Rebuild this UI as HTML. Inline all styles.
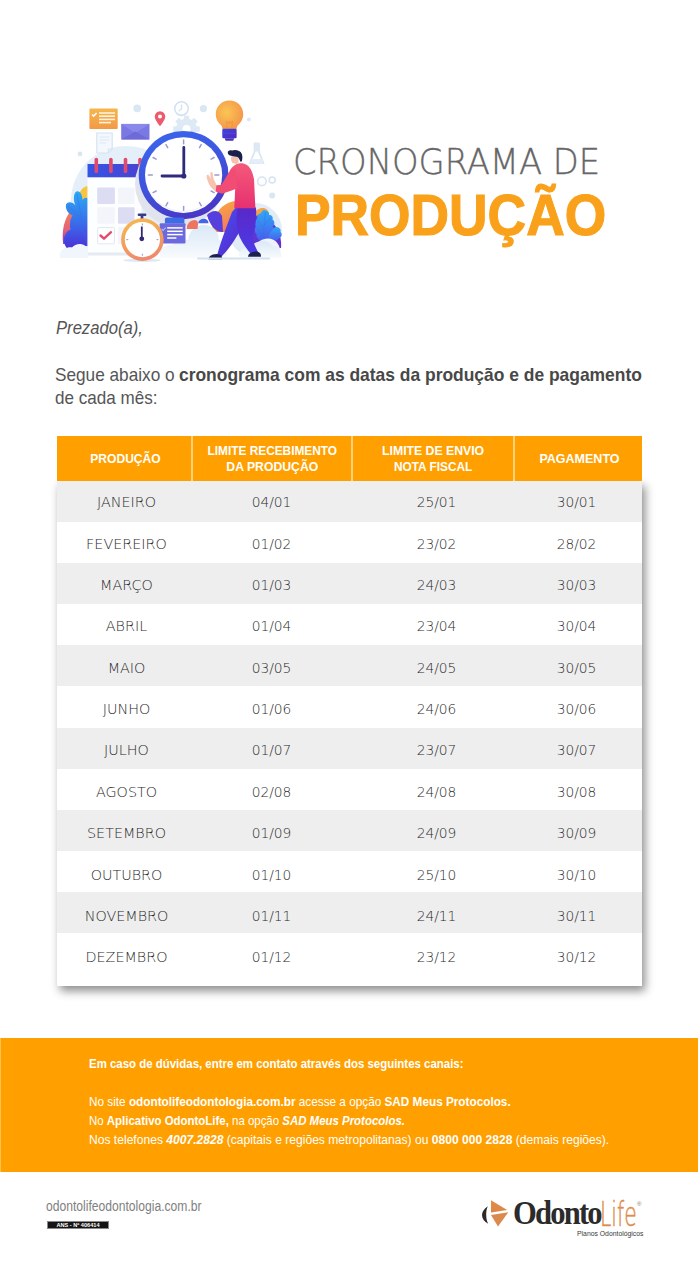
<!DOCTYPE html>
<html lang="pt-BR">
<head>
<meta charset="utf-8">
<title>Cronograma de Produção</title>
<style>
html,body{margin:0;padding:0;background:#fff;}
body{width:698px;height:1280px;position:relative;overflow:hidden;font-family:"Liberation Sans",Arial,sans-serif;}
.abs{position:absolute;white-space:nowrap;}
#t1{-webkit-text-stroke:0.35px #6a6a6a;transform-origin:0 0;transform:scaleX(.965);left:293px;top:142px;font-family:"DejaVu Sans",sans-serif;font-weight:200;font-size:35px;color:#666;line-height:40px;}
#t2{-webkit-text-stroke:1.1px #F9A11B;transform-origin:0 0;transform:scaleX(.944);left:294.5px;top:186px;font-family:"Liberation Sans",sans-serif;font-weight:700;font-size:56.5px;color:#F9A11B;line-height:60px;}
.sx{transform-origin:0 0;}
#p1{left:56px;top:316px;font-style:italic;font-size:19px;color:#555;line-height:24px;transform:scaleX(.875);}
#p2a,#p2b,#p2c{font-size:18.5px;color:#555;line-height:24px;}
#p2a{left:55px;top:363px;transform:scaleX(.93);}
#p2b{left:179px;top:363px;font-weight:700;color:#484848;transform:scaleX(.942);}
#p2c{left:55px;top:386px;transform:scaleX(.922);}
#tbody{position:absolute;left:57px;top:481px;width:585px;height:505px;background:#fff;box-shadow:3px 5px 9px rgba(0,0,0,.45);}
#tbl{position:absolute;left:57px;top:436px;width:585px;height:550px;}
#hd{position:absolute;left:0;top:0;width:585px;height:45px;background:#FF9F00;}
.hc{position:absolute;top:0;height:45px;display:flex;align-items:center;justify-content:center;text-align:center;color:#fff;font-weight:700;font-size:12.5px;line-height:16px;}
.hc span{display:block;}
.dv{position:absolute;top:0;width:2px;height:45px;background:#FFD27A;}
.row{position:absolute;left:0;width:585px;height:41.1px;background:#EEEEEE;}
.tr{position:absolute;left:0;width:585px;height:20px;}
.tr span{position:absolute;top:0;height:20px;line-height:20px;text-align:center;font-family:"DejaVu Sans",sans-serif;font-weight:200;font-size:14.8px;color:#2a2a2a;}
.tr .c2,.tr .c3,.tr .c4{transform:scaleX(.93);}
.tr .c1{transform:scaleX(.97);}
.tr .c1{left:1.5px;}.tr .c2{left:134.5px;}.tr .c3{left:298.5px;}.tr .c4{left:456px;}
.c1{left:0;width:135px;}
.c2{left:136px;width:159px;}
.c3{left:296px;width:161px;}
.c4{left:458px;width:127px;}
#band{position:absolute;left:0;top:1037.5px;width:698px;height:134.5px;background:#FF9F00;box-shadow:inset 1px 0 0 #FFC24A;}
.fl{position:absolute;left:89px;color:#fff;font-size:13px;white-space:nowrap;line-height:19px;transform-origin:0 0;}
#url{left:46px;top:1198px;font-size:14px;color:#808080;transform-origin:0 0;transform:scaleX(.865);}
#ans{position:absolute;left:47px;top:1221px;width:60px;height:6px;border:1px solid #8a8a8a;background:#151515;color:#fff;font-size:5.6px;line-height:6px;text-align:center;font-weight:700;white-space:nowrap;}
#lgO{left:513px;top:1194px;font-family:"Liberation Serif",serif;font-weight:700;font-size:34px;line-height:38px;color:#2B2B2B;transform-origin:0 0;transform:scaleX(.9);letter-spacing:-2px;}
#lgL{left:599.5px;top:1194.5px;font-family:"DejaVu Sans",sans-serif;font-weight:200;font-size:34px;line-height:38px;color:#E08B4C;-webkit-text-stroke:0.5px #E08B4C;transform-origin:0 0;transform:scaleX(.6);}
#lgR{left:637px;top:1201px;font-size:6px;line-height:6px;color:#777;}
#lgP{left:577px;top:1230px;font-size:7.6px;line-height:8px;color:#3A3A3A;transform-origin:0 0;transform:scaleX(.9);}
</style>
</head>
<body>
<!-- ILLUSTRATION -->
<svg class="abs" style="left:0;top:0" width="698" height="300" viewBox="0 0 698 300">
<defs>
<linearGradient id="gOrCard" x1="0" y1="0" x2="0" y2="1"><stop offset="0" stop-color="#F7B64C"/><stop offset="1" stop-color="#F39946"/></linearGradient>
<linearGradient id="gRing" x1="0.2" y1="0" x2="0.6" y2="1"><stop offset="0" stop-color="#3A66EC"/><stop offset="0.55" stop-color="#3F52DC"/><stop offset="1" stop-color="#4936C4"/></linearGradient>
<radialGradient id="gBulb" cx="0.4" cy="0.42" r="0.62"><stop offset="0" stop-color="#FAC653"/><stop offset="1" stop-color="#F5964A"/></radialGradient>
<linearGradient id="gBase" x1="0" y1="0" x2="1" y2="1"><stop offset="0" stop-color="#3A48E0"/><stop offset="1" stop-color="#5128BE"/></linearGradient>
<linearGradient id="gShirt" x1="0" y1="0" x2="0" y2="1"><stop offset="0" stop-color="#F45A7A"/><stop offset="1" stop-color="#E73070"/></linearGradient>
<linearGradient id="gPants" x1="0" y1="0" x2="1" y2="1"><stop offset="0" stop-color="#4650F2"/><stop offset="1" stop-color="#5A22C4"/></linearGradient>
<linearGradient id="gPants2" x1="0" y1="0" x2="0" y2="1"><stop offset="0" stop-color="#5A28C8"/><stop offset="1" stop-color="#4B3AE6"/></linearGradient>
<linearGradient id="gLeafL" x1="0" y1="0" x2="0" y2="1"><stop offset="0" stop-color="#2BAAF3"/><stop offset="0.55" stop-color="#3A6CEB"/><stop offset="1" stop-color="#4B30D8"/></linearGradient>
<linearGradient id="gLeafR" x1="0" y1="0" x2="0" y2="1"><stop offset="0" stop-color="#2EAAF5"/><stop offset="1" stop-color="#4C58EE"/></linearGradient>
<linearGradient id="gPlantL" x1="0" y1="0" x2="0" y2="1"><stop offset="0" stop-color="#F68058"/><stop offset="0.6" stop-color="#E0607A"/><stop offset="1" stop-color="#7038D0"/></linearGradient>
<linearGradient id="gStop" x1="0" y1="0" x2="0.3" y2="1"><stop offset="0" stop-color="#F7BC48"/><stop offset="1" stop-color="#F08A6C"/></linearGradient>
<linearGradient id="gCloud" x1="0" y1="0" x2="0" y2="1"><stop offset="0" stop-color="#DAE8F6"/><stop offset="1" stop-color="#F8FBFE"/></linearGradient>
<linearGradient id="gOrBlob" x1="0" y1="0" x2="0.4" y2="1"><stop offset="0" stop-color="#F9AA3E"/><stop offset="1" stop-color="#F27A60"/></linearGradient>
<linearGradient id="gCalBand" x1="0" y1="0" x2="1" y2="0"><stop offset="0" stop-color="#3555E6"/><stop offset="1" stop-color="#4A42D2"/></linearGradient>
<linearGradient id="gBush" x1="0" y1="0" x2="0" y2="1"><stop offset="0" stop-color="#4B46E4"/><stop offset="1" stop-color="#6A2CC8"/></linearGradient>
</defs>
<!-- background soft blobs -->
<circle cx="126" cy="201" r="55" fill="#E5EFF9"/>
<circle cx="255" cy="230" r="27" fill="#E2ECF7"/>
<circle cx="80" cy="154" r="2.4" fill="#DCE6F1"/>
<!-- gear -->
<path d="M183.8 118.9 L183.9 115.7 L189.1 115.7 L189.2 118.9 L191.8 119.9 L194.0 117.8 L197.7 121.5 L195.6 123.8 L196.6 126.3 L199.8 126.4 L199.8 131.6 L196.6 131.7 L195.6 134.2 L197.7 136.5 L194.0 140.2 L191.8 138.1 L189.2 139.1 L189.1 142.3 L183.9 142.3 L183.8 139.1 L181.2 138.1 L179.0 140.2 L175.3 136.5 L177.4 134.2 L176.4 131.7 L173.2 131.6 L173.2 126.4 L176.4 126.3 L177.4 123.8 L175.3 121.5 L179.0 117.8 L181.2 119.9 Z" fill="#DDE9F5"/>
<circle cx="186.5" cy="129.0" r="4" fill="#FFFFFF"/>
<!-- small clock outline -->
<circle cx="181.5" cy="108.6" r="6.8" fill="none" stroke="#D3E2F2" stroke-width="1.6"/>
<path d="M181.5 104.5 V109 L178.8 111.2" fill="none" stroke="#D3E2F2" stroke-width="1.3"/>
<circle cx="203.4" cy="108.6" r="3.6" fill="#D9E7F4"/>
<circle cx="137.2" cy="108.4" r="3.8" fill="#D9E7F4"/>
<circle cx="248.8" cy="119.4" r="2" fill="#DDE8F4"/>
<!-- orange card -->
<rect x="89.4" y="108.4" width="28.3" height="20.6" rx="1" fill="url(#gOrCard)"/>
<g stroke="#FFF3E0" stroke-width="1.6">
<line x1="99" y1="113" x2="115" y2="113"/><line x1="99" y1="116.2" x2="115" y2="116.2"/><line x1="99" y1="119.4" x2="115" y2="119.4"/><line x1="99" y1="122.6" x2="111" y2="122.6"/>
</g>
<path d="M92 114.5 l1.6 1.6 l3 -3.2" fill="none" stroke="#fff" stroke-width="1.5"/>
<!-- light doc -->
<path d="M96.8 133 H112.2 V149 L108.3 153 H96.8 Z" fill="#F4F8FC" stroke="#D4E3F2" stroke-width="1.2"/>
<path d="M108.3 153 V149 H112.2" fill="none" stroke="#D4E3F2" stroke-width="1.1"/>
<g stroke="#DCE7F3" stroke-width="1"><line x1="99.5" y1="137" x2="109.5" y2="137"/><line x1="99.5" y1="140" x2="109.5" y2="140"/><line x1="99.5" y1="143" x2="106" y2="143"/></g>
<!-- envelope -->
<rect x="121.2" y="123.9" width="28.3" height="15.5" fill="#7A78E2"/>
<path d="M121.2 123.9 L135.35 133 L149.5 123.9 Z" fill="#8A88EA"/>
<path d="M121.2 139.4 L135.35 131.5 L149.5 139.4 Z" fill="#6E6AD8"/>
<!-- pin -->
<path d="M160 126.2 C156.5 121.5 154.8 119 154.8 116.4 A5.2 5.2 0 0 1 165.2 116.4 C165.2 119 163.5 121.5 160 126.2 Z" fill="#EE5A6D"/>
<circle cx="160" cy="116.4" r="2" fill="#fff"/>
<!-- left plants -->
<path d="M63.2 244 C61.5 231 64 219 71 210.5 L75 214 C71.5 222 70 232 69 244 Z" fill="url(#gPlantL)"/>
<path d="M79 200 C78 192 82 187 87.8 186 L87.8 200 Z" fill="#F6C545"/>
<path d="M67 248.5 C63.5 244 63 238 65.5 234.5 C66.5 232 68.5 230 70.5 229.5 C69.5 225 70 219 72.5 215.5 C68.5 214 65 209.5 66 204.5 C68 201 72.5 202 75.5 205.5 C73 200 73.5 193 76.5 191.5 C80 190.5 82.5 195 82.5 200 C84 197.5 86.5 197 87.8 198.5 L87.8 248.5 C85 246.5 80 245 76.5 246.5 C73 248 70 249.5 67 248.5 Z" fill="url(#gLeafL)"/>
<g fill="none" stroke="#2F6FE6" stroke-width="0.6" opacity="0.7"><path d="M77 194 C80 210 83 228 87 246"/><path d="M68 206 C73 210 77 214 80 218"/><path d="M70 220 C74 224 78 228 82 232"/></g>
<path d="M65 256 C63 250 68 246 72 247.5 C75 244 82 244 85 248 L88 248 L88 256 Z" fill="#F2F6FC"/>
<!-- calendar -->
<rect x="85.3" y="246" width="3" height="11" fill="#E3E7EE"/>
<rect x="87.5" y="164" width="54" height="92" fill="#FDFEFF"/>
<rect x="87.5" y="252.5" width="54" height="3" fill="#E6EAF1"/>
<rect x="87.5" y="164" width="54" height="13.3" fill="url(#gCalBand)"/>
<g fill="#DCDDF3"><rect x="97.2" y="187.6" width="17.7" height="16.5" rx="1"/><rect x="118" y="207.3" width="16.6" height="16.5" rx="1"/></g>
<g fill="#F3F5FB"><rect x="118" y="187.6" width="16.6" height="16.5" rx="1"/><rect x="97.2" y="207.3" width="17.7" height="16.5" rx="1"/><rect x="118" y="227" width="16.6" height="17.3" rx="1"/></g>
<rect x="97.7" y="227.5" width="16.7" height="16.3" rx="1" fill="#FFFFFF" stroke="#E3E7F2" stroke-width="1"/>
<path d="M100.5 235.5 l3.5 3.2 l7 -6.5" fill="none" stroke="#E64A6C" stroke-width="2.4" stroke-linecap="round" stroke-linejoin="round"/>
<g stroke="#E24A6C" stroke-width="3.6" stroke-linecap="round"><line x1="96.3" y1="159.5" x2="96.3" y2="171.5"/><line x1="110.9" y1="159.5" x2="110.9" y2="171.5"/><line x1="125.5" y1="159.5" x2="125.5" y2="171.5"/><line x1="140" y1="159.5" x2="140" y2="171.5"/></g>
<!-- clock shadow -->
<ellipse cx="179" cy="184" rx="44" ry="43" fill="#E1E4ED"/>
<!-- big clock -->
<ellipse cx="183.6" cy="175.1" rx="44.9" ry="44.1" fill="url(#gRing)"/>
<ellipse cx="183.6" cy="175.1" rx="38.6" ry="37.9" fill="#FFFFFF"/>
<path d="M149 190 A38.6 37.9 0 0 0 214 196 A37 36 0 0 1 149 190 Z" fill="#EFF2F8"/>
<g stroke="#9C9BCB" stroke-width="1.5" stroke-linecap="round">
<line x1="183.6" y1="143.8" x2="183.6" y2="139.9"/>
<line x1="199.5" y1="147.6" x2="201.2" y2="144.6"/>
<line x1="211.1" y1="159.2" x2="214.1" y2="157.5"/>
<line x1="214.9" y1="175.1" x2="218.8" y2="175.1"/>
<line x1="211.1" y1="191.0" x2="214.1" y2="192.7"/>
<line x1="199.5" y1="202.6" x2="201.2" y2="205.6"/>
<line x1="183.6" y1="206.4" x2="183.6" y2="210.3"/>
<line x1="167.7" y1="202.6" x2="166.0" y2="205.6"/>
<line x1="156.1" y1="191.0" x2="153.1" y2="192.7"/>
<line x1="152.3" y1="175.1" x2="148.4" y2="175.1"/>
<line x1="156.1" y1="159.2" x2="153.1" y2="157.5"/>
<line x1="167.7" y1="147.6" x2="166.0" y2="144.6"/>
</g>
<g stroke="#2E2A7E" stroke-width="2.8" stroke-linecap="round"><line x1="183.8" y1="176" x2="183.8" y2="147.5"/><line x1="183.8" y1="176" x2="162" y2="176"/></g>
<circle cx="183.8" cy="176" r="2.6" fill="#2E2A7E"/>
<!-- bulb -->
<path d="M229.5 100.6 C237.3 100.6 243.2 106.6 243.2 114.2 C243.2 119 240.8 122.3 238.6 124.6 C237.3 126 236.6 127.3 236.6 129 H222.4 C222.4 127.3 221.7 126 220.4 124.6 C218.2 122.3 215.8 119 215.8 114.2 C215.8 106.6 221.7 100.6 229.5 100.6 Z" fill="url(#gBulb)"/>
<path d="M227 128 L226.6 121 L228.6 123.6 L229.5 121.5 L230.4 123.6 L232.4 121 L232 128" fill="none" stroke="#E8893F" stroke-width="0.7" opacity="0.8"/>
<rect x="222.3" y="128.7" width="14.3" height="9.6" rx="1.2" fill="url(#gBase)"/>
<line x1="222.3" y1="133.3" x2="236.6" y2="133.3" stroke="#5848E0" stroke-width="0.8"/>
<path d="M224.6 138.2 H234.3 L233.2 140.8 H225.7 Z" fill="#4A2EC2"/>
<!-- flask + gears right -->
<g fill="none" stroke="#D7E4F1" stroke-width="1.6">
<path d="M254.5 143 V152 L250 163 H263.4 L259 152 V143"/>
<circle cx="261.9" cy="181.3" r="4.3"/><circle cx="272.2" cy="180" r="3"/>
</g>
<circle cx="272.2" cy="195.4" r="3" fill="#D9E6F3"/>
<path d="M251.3 159 L250 163 H263.4 L262 159 Z" fill="#E4EEF8"/>
<rect x="254.2" y="142.5" width="5" height="9" fill="#DCE8F4"/>
<!-- orange blob + bushes -->
<path d="M212 232 C212 215 222 202 236 201 C246 201 250 212 248 232 Z" fill="url(#gOrBlob)"/>
<path d="M253 220 C252 212 258 207.5 264 208 C268 209 270 213 269 218 Z" fill="#F7A24A"/>
<path d="M249 250 C248 238 249 224 252 217 C258 214 266 216 272 222 C278 228 282 238 281 248 Z" fill="url(#gBush)"/>
<path d="M262 242 C259 240 256 238 256.5 234 C254 232 254.5 228 256 226.5 C254 224 254.5 220 257.5 219 C256.5 216 258.5 213 261 213.5 C261.5 210.5 264 209 266 210.5 C268.5 211 269.5 213.5 269 215 C271.5 214.5 273.5 217 272.5 219.5 C275 221 275 225 272.5 226.5 C274.5 228.5 274 232 271 233 C271 237 268 240 265 241 Z" fill="url(#gLeafR)"/>
<g fill="none" stroke="#2C78E6" stroke-width="0.6" opacity="0.8"><path d="M265.5 212 C264.5 222 263.5 232 262.5 242"/><path d="M257.5 221 L264 228"/><path d="M270.5 218 L264.5 225"/><path d="M257 229 L263 235"/></g>
<path d="M268.5 241.5 C268 237 269.5 232 272.5 230 C273.5 227.5 276.5 226 278.5 227.5 C280.5 228.5 281 230.5 280.5 232 C282.5 233.5 282 237 279.5 238 C277 241 272 242 268.5 241.5 Z" fill="url(#gLeafR)"/>
<path d="M253 257 C253 245 260 238.5 268 238.5 C276 238.5 281 245 281 257 Z" fill="#EEF3FA"/>
<path d="M207 215 C213 209 219 210 222 216 L223 232 C216 232 210 226 207 215 Z" fill="#5540DE"/>
<!-- clouds -->
<path d="M160 258 C158 250 164 244 172 245 C176 240 182 238 188 240 C189 230 197 224.5 205 225 C213 225.5 219 232 219 240 C226 241 229 250 226 258 Z" fill="url(#gCloud)"/>
<path d="M240 258 C236 252 244 246 250 248 C254 240 268 238 272 246 C280 246 284 256 278 258 Z" fill="url(#gCloud)"/>
<path d="M60 258 C58 250 66 246 72 248 C76 242 86 243 88 250 L88 258 Z" fill="#F1F6FC"/>
<!-- purple card -->
<path d="M164.9 223.5 V219.5 C164.9 218.4 165.8 217.6 167 217.6 H182.4 C183.5 217.6 184.4 218.4 184.4 219.5 V223.5 Z" fill="#3D6CE7"/>
<path d="M186.7 229 C186.5 224 190 220 195 219.9 C197 220 198.1 222 198.1 224 L197.5 229 Z" fill="#EE7462"/>
<path d="M198.1 223.3 C198.5 220.5 201 218.8 204 218.8 C206.5 218.8 208.5 220.5 208.5 223.3 Z" fill="#4565EA"/>
<rect x="159.7" y="223.3" width="25.8" height="20.1" rx="1" fill="#6C69DE"/>
<path d="M161.6 229 l1.5 1.5 l2.6 -2.8" fill="none" stroke="#B9B7F2" stroke-width="1.1"/>
<g stroke="#FFFFFF" stroke-width="1.5"><line x1="167.2" y1="227.9" x2="182.7" y2="227.9"/><line x1="167.2" y1="231.3" x2="182.7" y2="231.3"/><line x1="167.2" y1="234.6" x2="182.7" y2="234.6"/><line x1="167.2" y1="238" x2="176.4" y2="238"/></g>
<!-- stopwatch -->
<ellipse cx="142" cy="260.3" rx="19" ry="1.6" fill="#DCE8F4"/>
<rect x="137.7" y="213.4" width="8.7" height="2.6" rx="1" fill="#3A3A8C"/>
<rect x="140.6" y="215.5" width="2.8" height="3.5" fill="#3A3A8C"/>
<circle cx="142.4" cy="239.6" r="21.3" fill="url(#gStop)"/>
<circle cx="142.4" cy="239.6" r="17.6" fill="#FFFFFF"/>
<g stroke="#A3A6CF" stroke-width="1.2"><line x1="142.4" y1="223.5" x2="142.4" y2="225.5"/><line x1="142.4" y1="253.8" x2="142.4" y2="255.8"/><line x1="126.3" y1="239.6" x2="128.3" y2="239.6"/><line x1="156.5" y1="239.6" x2="158.5" y2="239.6"/></g>
<line x1="141.8" y1="238.8" x2="141.8" y2="226.5" stroke="#2F2B70" stroke-width="1.8"/>
<circle cx="141.8" cy="238.8" r="2.4" fill="#2F2B70"/>
<!-- person -->
<path d="M217 256 C220 244 226 228 232 212 L236 207.5 L252 207.5 C252 216 248 222 243 226 C238 234 232 246 222 256 Z" fill="url(#gPants)"/>
<path d="M238 207.5 L256 207.5 C257 222 254 232 252 238 C254 244 256 248 258 252 L250 253 C245 246 240 240 238 232 C236 224 236 214 238 207.5 Z" fill="url(#gPants2)"/>
<path d="M208.4 259.3 C208.6 256.2 212 254.2 216.5 254 C219.5 253.9 221.6 255 222 257 L222 259.3 Z" fill="#1C2050"/>
<path d="M248 256.7 C248.2 253.6 251.5 251.8 255.5 251.6 C258.5 251.5 260.6 252.8 260.9 255 L260.9 256.7 Z" fill="#1C2050"/>
<path d="M236.3 164.2 C239 162.8 243 162.8 246 164.5 C249.5 166 252.5 171 254 179 L255.4 208.3 L234.3 208.3 L235.2 188.6 L230.6 169.6 C232 167 234 165.3 236.3 164.2 Z" fill="url(#gShirt)"/>
<path d="M231 169 C227 175 224 181 221 185 L215 185.3 L215.5 191.6 L222 193.7 C227 192 232 190.5 236.5 188.4 L237.5 188 L235 169.5 Z" fill="#F04C74"/>
<path d="M215.6 191.2 C211.5 189 208 184 206.6 177 C206.3 174.5 208.2 174 209.2 176 L210.6 179 L210.3 173 C210.5 171.5 212.2 171.5 212.5 173 L213.6 179 L216.5 185 Z" fill="#F7C3AE"/>
<path d="M231.2 156.5 C230.8 159 231.2 161.5 232.5 163 L236.3 163.9 L238.5 162.8 L238.5 157.2 Z" fill="#F5C2AB"/>
<path d="M227.8 153 C227.5 150.5 230 149.8 232 150.5 C234 149.5 237 149.8 239 151 C241.5 152 242.6 155 242.4 158 L241.8 161.6 L240.2 161.6 C239.8 159.5 239 158 237.5 157 L236 156.8 C233.5 156.3 231.5 156 230 155.5 C228.8 155 228 154 227.8 153 Z" fill="#1B1F4B"/>
<!-- ground lines -->
<rect x="197" y="257.6" width="73" height="1.8" rx="0.9" fill="#D4E2F0"/>
</svg>

<div class="abs" id="t1">CRONOGRAMA DE</div>
<div class="abs" id="t2">PRODUÇÃO</div>

<div class="abs sx" id="p1">Prezado(a),</div>
<div class="abs sx" id="p2a">Segue abaixo o</div>
<div class="abs sx" id="p2b">cronograma com as datas da produção e de pagamento</div>
<div class="abs sx" id="p2c">de cada mês:</div>

<div id="tbody"></div>
<div id="tbl">
  <div id="hd">
    <div class="hc c1"><span style="transform:scaleX(.965);margin-left:2px">PRODUÇÃO</span></div>
    <div class="hc c2"><div><span style="transform:scaleX(.949)">LIMITE RECEBIMENTO</span><span style="transform:scaleX(.978)">DA PRODUÇÃO</span></div></div>
    <div class="hc c3"><div><span style="transform:scaleX(.98)">LIMITE DE ENVIO</span><span style="transform:scaleX(.947)">NOTA FISCAL</span></div></div>
    <div class="hc c4"><span style="margin-left:2px">PAGAMENTO</span></div>
    <div class="dv" style="left:134px"></div>
    <div class="dv" style="left:294px"></div>
    <div class="dv" style="left:456px"></div>
  </div>
  <div class="row" style="top:45.00px"></div>
  <div class="row" style="top:127.20px"></div>
  <div class="row" style="top:209.40px"></div>
  <div class="row" style="top:291.60px"></div>
  <div class="row" style="top:373.80px"></div>
  <div class="row" style="top:456.00px"></div>
  <div class="tr" style="top:56.20px"><span class="c1">JANEIRO</span><span class="c2">04/01</span><span class="c3">25/01</span><span class="c4">30/01</span></div>
  <div class="tr" style="top:97.57px"><span class="c1">FEVEREIRO</span><span class="c2">01/02</span><span class="c3">23/02</span><span class="c4">28/02</span></div>
  <div class="tr" style="top:138.94px"><span class="c1">MARÇO</span><span class="c2">01/03</span><span class="c3">24/03</span><span class="c4">30/03</span></div>
  <div class="tr" style="top:180.31px"><span class="c1">ABRIL</span><span class="c2">01/04</span><span class="c3">23/04</span><span class="c4">30/04</span></div>
  <div class="tr" style="top:221.68px"><span class="c1">MAIO</span><span class="c2">03/05</span><span class="c3">24/05</span><span class="c4">30/05</span></div>
  <div class="tr" style="top:263.05px"><span class="c1">JUNHO</span><span class="c2">01/06</span><span class="c3">24/06</span><span class="c4">30/06</span></div>
  <div class="tr" style="top:304.42px"><span class="c1">JULHO</span><span class="c2">01/07</span><span class="c3">23/07</span><span class="c4">30/07</span></div>
  <div class="tr" style="top:345.79px"><span class="c1">AGOSTO</span><span class="c2">02/08</span><span class="c3">24/08</span><span class="c4">30/08</span></div>
  <div class="tr" style="top:387.16px"><span class="c1">SETEMBRO</span><span class="c2">01/09</span><span class="c3">24/09</span><span class="c4">30/09</span></div>
  <div class="tr" style="top:428.53px"><span class="c1">OUTUBRO</span><span class="c2">01/10</span><span class="c3">25/10</span><span class="c4">30/10</span></div>
  <div class="tr" style="top:469.90px"><span class="c1">NOVEMBRO</span><span class="c2">01/11</span><span class="c3">24/11</span><span class="c4">30/11</span></div>
  <div class="tr" style="top:511.27px"><span class="c1">DEZEMBRO</span><span class="c2">01/12</span><span class="c3">23/12</span><span class="c4">30/12</span></div>
</div>

<div id="band">
  <div class="fl" style="top:16.5px;font-weight:700;transform:scaleX(.88)">Em caso de dúvidas, entre em contato através dos seguintes canais:</div>
  <div class="fl" style="top:54px;transform:scaleX(.905)">No site <b>odontolifeodontologia.com.br</b> acesse a opção <b>SAD Meus Protocolos.</b></div>
  <div class="fl" style="top:73px;transform:scaleX(.88)">No <b>Aplicativo OdontoLife,</b> na opção <b><i>SAD Meus Protocolos.</i></b></div>
  <div class="fl" style="top:92px;transform:scaleX(.93)">Nos telefones <b><i>4007.2828</i></b> (capitais e regiões metropolitanas) ou <b>0800 000 2828</b> (demais regiões).</div>
</div>

<div class="abs" id="url">odontolifeodontologia.com.br</div>
<div id="ans">ANS - Nº 406414</div>

<!-- LOGO -->
<svg class="abs" style="left:478px;top:1196px" width="34" height="34" viewBox="478 1196 34 34">
<defs><linearGradient id="gLogo" x1="0" y1="0" x2="0" y2="1"><stop offset="0" stop-color="#E58C42"/><stop offset="1" stop-color="#D9874A"/></linearGradient></defs>
<path d="M487.8 1206.3 C484 1209 482 1212 482 1215 C482 1218.5 484.3 1221.8 488.2 1223.8 C486.8 1221.2 486.2 1218.2 486.2 1215 C486.2 1211.8 486.6 1208.8 487.8 1206.3 Z" fill="#2A2A2A"/>
<path d="M491 1200.2 L507.2 1209.9 L491 1212.6 Z" fill="url(#gLogo)"/>
<path d="M491 1215.1 L508.3 1212.3 L498 1226.6 Z" fill="#DB8A4E"/>
</svg>
<div class="abs" id="lgO">Odonto</div>
<div class="abs" id="lgL">Life</div>
<div class="abs" id="lgR">®</div>
<div class="abs" id="lgP">Planos Odontológicos</div>

</body>
</html>
